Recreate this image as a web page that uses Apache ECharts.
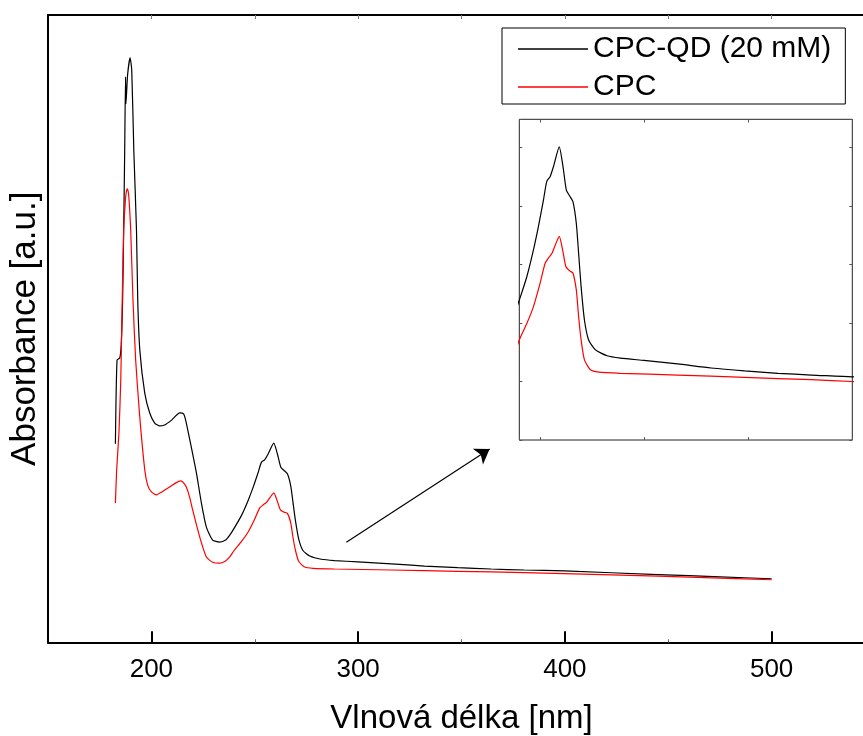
<!DOCTYPE html>
<html><head><meta charset="utf-8">
<script src="https://cdn.jsdelivr.net/npm/echarts@6/dist/echarts.min.js"></script>
<style>html,body{margin:0;padding:0;background:#fff}#c{width:863px;height:736px}</style>
</head><body><div id="c"></div>
<script>
const seriesNames = ['CPC-QD (20 mM)', 'CPC'];
const seriesColors = ['#000000', '#ff0000'];
// [wavelength nm, absorbance a.u.]
const cpcQd = [
  [182.6,0.599],[183.4,0.857],[184.7,0.863],[185.4,0.903],[186.1,1.042],[186.6,1.257],[187.1,1.503],
  [187.5,1.728],[187.7,1.645],[188.5,1.734],[189.7,1.786],[190.5,1.749],[191.5,1.503],[192.8,1.257],
  [193.4,1.042],[194.4,0.888],[196.8,0.755],[199.2,0.694],[201.6,0.663],[204.0,0.654],[206.4,0.657],
  [209.8,0.672],[213.7,0.694],[215.6,0.691],[216.9,0.663],[219.3,0.589],[221.8,0.509],[224.2,0.417],
  [226.6,0.343],[229.6,0.303],[233.0,0.297],[235.9,0.303],[237.9,0.318],[240.0,0.339],[243.6,0.379],
  [246.8,0.425],[249.2,0.465],[251.6,0.510],[253.2,0.542],[254.8,0.550],[256.4,0.567],[259.2,0.601],
  [261.0,0.567],[262.6,0.527],[264.2,0.517],[265.8,0.507],[267.4,0.470],[268.5,0.419],[269.7,0.362],
  [271.3,0.305],[273.3,0.271],[276.6,0.254],[282.2,0.244],[288.6,0.240],[299.9,0.236],[316.0,0.230],
  [332.1,0.223],[348.2,0.218],[364.3,0.214],[380.4,0.211],[399.8,0.208],[445.0,0.197],[475.0,0.190],
  [500.0,0.184]
];
const cpc = [
  [182.6,0.417],[183.2,0.518],[184.3,0.632],[185.2,0.795],[185.9,1.042],[186.6,1.257],[187.3,1.334],
  [187.8,1.371],[188.4,1.383],[189.0,1.365],[189.5,1.319],[190.0,1.257],[191.1,1.042],[192.4,0.857],
  [194.3,0.688],[196.8,0.519],[198.2,0.472],[200.0,0.451],[202.4,0.442],[205.0,0.451],[208.8,0.466],
  [211.8,0.479],[214.2,0.485],[215.6,0.479],[216.9,0.466],[218.5,0.435],[220.0,0.395],[223.4,0.312],
  [226.6,0.251],[229.6,0.235],[233.0,0.232],[235.9,0.239],[237.9,0.251],[240.0,0.271],[243.6,0.299],
  [246.8,0.328],[250.0,0.368],[252.4,0.402],[254.0,0.411],[255.7,0.419],[257.6,0.436],[259.2,0.448],
  [260.8,0.425],[262.4,0.396],[264.2,0.389],[265.8,0.385],[267.4,0.356],[268.5,0.311],[269.7,0.271],
  [271.3,0.237],[274.2,0.220],[278.2,0.216],[288.6,0.214],[316.0,0.211],[348.2,0.207],[380.4,0.203],
  [399.8,0.200],[445.0,0.192],[475.0,0.186],[500.0,0.181]
];
const majorTicks = [200, 300, 400, 500];
const minorTicks = [250, 350, 450];
const topTicks = [200, 250, 300, 350, 400, 450, 500];
const insetXTicks = [250, 300, 350];
const arrowFrom = [294.3, 0.296];
const arrowTo = [363.6, 0.583];
const mainXRange = [150, 550];
const mainYRange = [-0.012, 1.918];
const insetXRange = [240, 400];
const insetYRange = [0.1, 0.648];
const xTitle = 'Vlnová délka [nm]';
const yTitle = 'Absorbance [a.u.]';

const FONT = "'Liberation Sans', Arial, sans-serif";
const chart = echarts.init(document.getElementById('c'), null, {renderer: 'canvas'});
const off = () => ({show: false});
function g(left, top, width, height, extra) {
  return Object.assign({left: left, top: top, width: width, height: height, containLabel: false, outerBoundsMode: 'none'}, extra || {});
}
const MX = 48, MT = 15, MW = 827, MH = 627.5, MB = MT + MH;
const IX = 519.3, IT = 119.3, IW = 333, IH = 320.7, IB = IT + IH;
const grids = [
  g(MX, MT, MW, MH),                   // 0 main
  g(MX, MB - 11, MW, 11),              // 1 main major tick strip
  g(MX, MB - 3, MW, 3),                // 2 main minor tick strip
  g(MX, MT, MW, 4),                    // 3 main top axis
  g(IX, IT, IW, IH, {show: true, backgroundColor: '#fff', borderColor: '#222', borderWidth: 1}), // 4 inset
  g(IX, IB - 3, IW, 3),                // 5 inset bottom tick strip
  g(IX, IT, IW, 3),                    // 6 inset top tick strip
  g(IX, IT, 3, IH),                    // 7 inset left ticks
  g(IX + IW - 3, IT, 3, IH)            // 8 inset right ticks
];
function hiddenAxis(i) { return {type: 'value', gridIndex: i, show: false, min: 0, max: 1}; }
function tickAxis(i, range, opts, color, width, minor) {
  return Object.assign({type: 'value', gridIndex: i, min: range[0], max: range[1],
    axisLine: off(), axisTick: off(), axisLabel: off(),
    splitLine: minor ? off() : {show: true, lineStyle: {color: color, width: width, type: 'solid'}},
    minorTick: {show: false, splitNumber: 2},
    minorSplitLine: minor ? {show: true, lineStyle: {color: color, width: width, type: 'solid'}} : off()
  }, opts);
}
// tick length in data units, derived from the axis scale
const mainPerPx = (mainYRange[1] - mainYRange[0]) / MH;
const insetPerPx = (insetYRange[1] - insetYRange[0]) / IH;
function tickPair(x, y0, len, color, width) {
  return [{coord: [x, y0], lineStyle: {color: color, width: width, type: 'solid'}}, {coord: [x, y0 + len]}];
}
const mainTickLines = [].concat(
  majorTicks.map(x => tickPair(x, mainYRange[0], 11 * mainPerPx, '#000', 2)),
  minorTicks.map(x => tickPair(x, mainYRange[0], 3 * mainPerPx, '#666', 1)),
  topTicks.map(x => tickPair(x, mainYRange[1], -4 * mainPerPx, '#777', 1))
);
const insetTickLines = [].concat(
  insetXTicks.map(x => tickPair(x, insetYRange[0], 3 * insetPerPx, '#555', 1)),
  insetXTicks.map(x => tickPair(x, insetYRange[1], -3 * insetPerPx, '#555', 1))
);
function tickMarkLine(data) {
  return {silent: true, animation: false, symbol: ['none', 'none'], label: {show: false},
    emphasis: {disabled: true}, lineStyle: {type: 'solid'}, data: data};
}

function mk(name, color, data, xi, yi, extra) {
  return Object.assign({
    type: 'line', name: name, data: data, xAxisIndex: xi, yAxisIndex: yi,
    symbol: 'none', showSymbol: false, clip: true, animation: false, smooth: 0.2,
    lineStyle: {color: color, width: 1.2}, itemStyle: {color: color}
  }, extra || {});
}

chart.setOption({
  animation: false,
  backgroundColor: '#fff',
  textStyle: {fontFamily: FONT, color: '#000'},
  grid: grids,
  legend: {
    data: seriesNames, orient: 'vertical', left: 502, top: 28,
    icon: 'rect', itemWidth: 70, itemHeight: 1.3, itemGap: 8,
    padding: [6, 14, 2, 16], borderColor: '#000', borderWidth: 1, backgroundColor: '#fff',
    textStyle: {fontFamily: FONT, fontSize: 30, color: '#000'},
    selectedMode: false
  },
  xAxis: [
    {type: 'value', gridIndex: 0, position: 'bottom', min: mainXRange[0], max: mainXRange[1], splitNumber: 4,
     name: xTitle, nameLocation: 'middle', nameGap: 60,
     nameTextStyle: {fontFamily: FONT, fontSize: 33, color: '#000'},
     axisLine: {show: true, onZero: false, lineStyle: {color: '#000', width: 2}},
     axisTick: off(),
     axisLabel: {show: true, margin: 14, fontFamily: FONT, fontSize: 26, color: '#000', showMinLabel: false, showMaxLabel: false},
     splitLine: off()},
    tickAxis(1, mainXRange, {splitNumber: 4}, '#000', 2, false),
    tickAxis(2, mainXRange, {splitNumber: 4}, '#666', 1, true),
    tickAxis(3, mainXRange, {interval: 50, position: 'top',
      axisLine: {show: true, onZero: false, lineStyle: {color: '#000', width: 2}}}, '#777', 1, false),
    {type: 'value', gridIndex: 4, min: insetXRange[0], max: insetXRange[1], axisLine: off(), axisTick: off(), axisLabel: off(), splitLine: off()},
    tickAxis(5, insetXRange, {splitNumber: 3}, '#555', 1, false),
    tickAxis(6, insetXRange, {splitNumber: 3}, '#555', 1, false),
    hiddenAxis(7),
    hiddenAxis(8)
  ],
  yAxis: [
    {type: 'value', gridIndex: 0, position: 'left', min: mainYRange[0], max: mainYRange[1],
     name: yTitle, nameLocation: 'middle', nameGap: 5, nameRotate: 90,
     nameTextStyle: {fontFamily: FONT, fontSize: 35, color: '#000'},
     axisLine: {show: true, onZero: false, lineStyle: {color: '#000', width: 2}},
     axisTick: off(), axisLabel: off(), splitLine: off()},
    hiddenAxis(1), hiddenAxis(2), hiddenAxis(3),
    {type: 'value', gridIndex: 4, min: insetYRange[0], max: insetYRange[1], axisLine: off(), axisTick: off(), axisLabel: off(), splitLine: off()},
    hiddenAxis(5), hiddenAxis(6),
    tickAxis(7, insetYRange, {interval: 0.1}, '#555', 1, false),
    tickAxis(8, insetYRange, {interval: 0.1}, '#555', 1, false)
  ],
  series: [
    mk(seriesNames[0], seriesColors[0], cpcQd, 0, 0, {
      markLine: {
        silent: true, animation: false, symbol: ['none', 'arrow'], symbolSize: 14,
        label: {show: false},
        lineStyle: {color: '#000', width: 1.2, type: 'solid'},
        emphasis: {disabled: true},
        data: [[{coord: arrowFrom}, {coord: arrowTo}]]
      }
    }),
    mk(seriesNames[1], seriesColors[1], cpc, 0, 0, {markLine: tickMarkLine(mainTickLines)}),
    mk(seriesNames[0], seriesColors[0], cpcQd, 4, 4),
    mk(seriesNames[1], seriesColors[1], cpc, 4, 4, {markLine: tickMarkLine(insetTickLines)})
  ]
});
</script>
</body></html>
